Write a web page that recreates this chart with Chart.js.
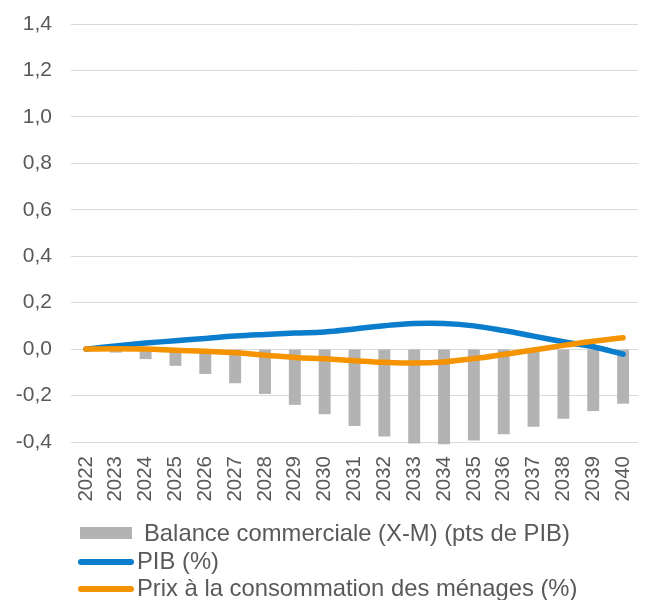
<!DOCTYPE html>
<html>
<head>
<meta charset="utf-8">
<script src="https://cdn.jsdelivr.net/npm/chart.js@4"></script>
<style>
  body { margin: 0; background: #fff; }
  #wrap { position: relative; width: 646px; height: 600px; }
  #legend { position: absolute; left: 0; top: 0; font-family: "Liberation Sans", Arial, sans-serif; font-size: 23.8px; line-height: 28px; color: #595959; }
  .item { position: absolute; white-space: nowrap; }
  .swatch { position: absolute; }
</style>
</head>
<body>
<div id="wrap">
  <canvas id="chart" width="646" height="600"></canvas>
  <div id="legend"></div>
</div>
<script>
const years = ["2022","2023","2024","2025","2026","2027","2028","2029","2030","2031","2032","2033","2034","2035","2036","2037","2038","2039","2040"];
const balance = [0, -0.015, -0.043, -0.072, -0.107, -0.147, -0.193, -0.24, -0.281, -0.331, -0.376, -0.406, -0.41, -0.394, -0.367, -0.334, -0.3, -0.267, -0.235];
const pib = [0, 0.014, 0.026, 0.036, 0.046, 0.056, 0.063, 0.069, 0.074, 0.087, 0.101, 0.11, 0.11, 0.1, 0.08, 0.056, 0.032, 0.01, -0.022];
const prix = [0, 0.002, 0, -0.005, -0.009, -0.016, -0.026, -0.036, -0.042, -0.05, -0.057, -0.06, -0.055, -0.041, -0.023, -0.004, 0.016, 0.034, 0.049];
const yTicks = [-0.4, -0.2, 0, 0.2, 0.4, 0.6, 0.8, 1.0, 1.2, 1.4];

const FONT = "'Liberation Sans', Arial, sans-serif";
const TXT = "#595959";

const chart = new Chart(document.getElementById("chart").getContext("2d"), {
  type: "bar",
  data: {
    labels: years,
    datasets: [
      {
        type: "bar",
        label: "Balance commerciale (X-M) (pts de PIB)",
        data: balance,
        backgroundColor: "#b3b3b3",
        barPercentage: 0.4,
        categoryPercentage: 1,
        order: 2,
        clip: false
      },
      {
        type: "line",
        label: "PIB (%)",
        data: pib,
        borderColor: "#0a7dcc",
        borderWidth: 5.5,
        pointRadius: 0,
        tension: 0.4,
        borderCapStyle: "round",
        order: 1
      },
      {
        type: "line",
        label: "Prix à la consommation des ménages (%)",
        data: prix,
        borderColor: "#f59300",
        borderWidth: 5.5,
        pointRadius: 0,
        tension: 0.4,
        borderCapStyle: "round",
        order: 0
      }
    ]
  },
  options: {
    responsive: false,
    animation: false,
    layout: { padding: { top: 24, right: 8, left: 0, bottom: 0 } },
    plugins: { legend: { display: false }, tooltip: { enabled: false } },
    scales: {
      x: {
        grid: { display: false, drawTicks: false },
        border: { display: false },
        ticks: { minRotation: 90, maxRotation: 90, padding: 14, color: TXT, font: { family: FONT, size: 20.5 } },
        afterFit: s => { s.height = 158; s.paddingLeft = 0; s.paddingRight = 0; }
      },
      y: {
        min: -0.4,
        max: 1.4,
        afterBuildTicks: s => { s.ticks = yTicks.map(v => ({ value: v })); },
        grid: { color: "#d9d9d9", lineWidth: 1, drawTicks: false },
        border: { display: false },
        ticks: {
          padding: 19,
          color: TXT,
          font: { family: FONT, size: 21 },
          callback: v => v.toFixed(1).replace(".", ",")
        },
        afterFit: s => { s.width = 71; s.paddingTop = 0; s.paddingBottom = 0; }
      }
    }
  }
});

// legend, one item per line, left aligned
const legend = document.getElementById("legend");
const rows = [
  { y: 533, textTop: 519, kind: "box" },
  { y: 562, textTop: 547, kind: "line" },
  { y: 589, textTop: 574, kind: "line" }
];
chart.data.datasets.forEach((ds, i) => {
  const r = rows[i];
  const sw = document.createElement("div");
  sw.className = "swatch";
  if (r.kind === "box") {
    sw.style.cssText = `left:80px;top:${r.y - 6}px;width:52px;height:12px;background:${ds.backgroundColor}`;
  } else {
    sw.style.cssText = `left:78px;top:${r.y - 3}px;width:56px;height:6px;border-radius:3px;background:${ds.borderColor}`;
  }
  legend.appendChild(sw);
  const t = document.createElement("div");
  t.className = "item";
  t.textContent = ds.label;
  t.style.left = (r.kind === "box" ? 144 : 137) + "px";
  t.style.top = r.textTop + "px";
  legend.appendChild(t);
});
</script>
</body>
</html>
